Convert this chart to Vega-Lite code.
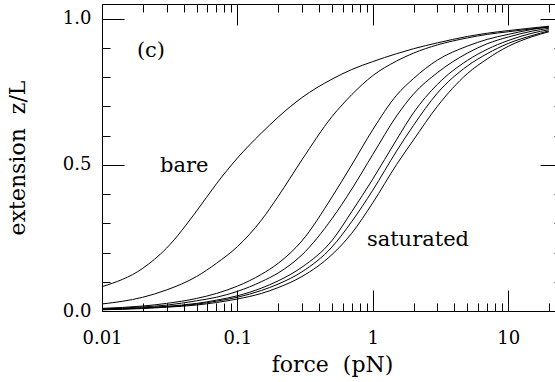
{
  "$schema": "https://vega.github.io/schema/vega-lite/v6.json",
  "width": 460,
  "height": 307,
  "autosize": {"type": "none"},
  "padding": {"left": 102, "top": 4, "right": 0, "bottom": 71},
  "background": "white",
  "config": {
    "view": {"stroke": "black", "strokeWidth": 1},
    "axis": {
      "domainColor": "black", "tickColor": "black", "labelColor": "black", "titleColor": "black",
      "grid": false, "labelFont": "DejaVu Serif", "titleFont": "DejaVu Serif",
      "labelFontSize": 18, "titleFontSize": 22, "titleFontWeight": "normal",
      "tickWidth": 1, "domainWidth": 1, "labelFlush": false, "labelBound": false, "labelOverlap": false
    }
  },
  "datasets": {
    "curves": [
      {"curve":1,"force":0.01,"z":0.083},{"curve":1,"force":0.02,"z":0.146},{"curve":1,"force":0.03,"z":0.215},{"curve":1,"force":0.05,"z":0.342},{"curve":1,"force":0.07,"z":0.435},{"curve":1,"force":0.1,"z":0.523},{"curve":1,"force":0.15,"z":0.608},{"curve":1,"force":0.2,"z":0.663},{"curve":1,"force":0.3,"z":0.730},{"curve":1,"force":0.5,"z":0.793},{"curve":1,"force":0.7,"z":0.826},{"curve":1,"force":1,"z":0.853},{"curve":1,"force":1.5,"z":0.880},{"curve":1,"force":2,"z":0.897},{"curve":1,"force":3,"z":0.917},{"curve":1,"force":5,"z":0.939},{"curve":1,"force":7,"z":0.950},{"curve":1,"force":10,"z":0.959},{"curve":1,"force":15,"z":0.968},{"curve":1,"force":20,"z":0.974},
      {"curve":2,"force":0.01,"z":0.024},{"curve":2,"force":0.02,"z":0.047},{"curve":2,"force":0.03,"z":0.072},{"curve":2,"force":0.05,"z":0.118},{"curve":2,"force":0.07,"z":0.163},{"curve":2,"force":0.1,"z":0.220},{"curve":2,"force":0.15,"z":0.310},{"curve":2,"force":0.2,"z":0.392},{"curve":2,"force":0.3,"z":0.517},{"curve":2,"force":0.5,"z":0.665},{"curve":2,"force":0.7,"z":0.740},{"curve":2,"force":1,"z":0.805},{"curve":2,"force":1.5,"z":0.855},{"curve":2,"force":2,"z":0.882},{"curve":2,"force":3,"z":0.910},{"curve":2,"force":5,"z":0.934},{"curve":2,"force":7,"z":0.946},{"curve":2,"force":10,"z":0.955},{"curve":2,"force":15,"z":0.965},{"curve":2,"force":20,"z":0.971},
      {"curve":3,"force":0.01,"z":0.009},{"curve":3,"force":0.02,"z":0.017},{"curve":3,"force":0.03,"z":0.026},{"curve":3,"force":0.05,"z":0.043},{"curve":3,"force":0.07,"z":0.060},{"curve":3,"force":0.1,"z":0.085},{"curve":3,"force":0.15,"z":0.125},{"curve":3,"force":0.2,"z":0.163},{"curve":3,"force":0.3,"z":0.240},{"curve":3,"force":0.5,"z":0.390},{"curve":3,"force":0.7,"z":0.500},{"curve":3,"force":1,"z":0.620},{"curve":3,"force":1.5,"z":0.738},{"curve":3,"force":2,"z":0.795},{"curve":3,"force":3,"z":0.858},{"curve":3,"force":5,"z":0.906},{"curve":3,"force":7,"z":0.929},{"curve":3,"force":10,"z":0.946},{"curve":3,"force":15,"z":0.963},{"curve":3,"force":20,"z":0.972},
      {"curve":4,"force":0.01,"z":0.007},{"curve":4,"force":0.02,"z":0.014},{"curve":4,"force":0.03,"z":0.020},{"curve":4,"force":0.05,"z":0.035},{"curve":4,"force":0.07,"z":0.047},{"curve":4,"force":0.1,"z":0.067},{"curve":4,"force":0.15,"z":0.100},{"curve":4,"force":0.2,"z":0.130},{"curve":4,"force":0.3,"z":0.192},{"curve":4,"force":0.5,"z":0.316},{"curve":4,"force":0.7,"z":0.417},{"curve":4,"force":1,"z":0.535},{"curve":4,"force":1.5,"z":0.667},{"curve":4,"force":2,"z":0.742},{"curve":4,"force":3,"z":0.815},{"curve":4,"force":5,"z":0.882},{"curve":4,"force":7,"z":0.914},{"curve":4,"force":10,"z":0.937},{"curve":4,"force":15,"z":0.957},{"curve":4,"force":20,"z":0.967},
      {"curve":5,"force":0.01,"z":0.0054},{"curve":5,"force":0.02,"z":0.011},{"curve":5,"force":0.03,"z":0.016},{"curve":5,"force":0.05,"z":0.026},{"curve":5,"force":0.07,"z":0.037},{"curve":5,"force":0.1,"z":0.052},{"curve":5,"force":0.15,"z":0.078},{"curve":5,"force":0.2,"z":0.103},{"curve":5,"force":0.3,"z":0.150},{"curve":5,"force":0.5,"z":0.241},{"curve":5,"force":0.7,"z":0.340},{"curve":5,"force":1,"z":0.451},{"curve":5,"force":1.5,"z":0.586},{"curve":5,"force":2,"z":0.678},{"curve":5,"force":3,"z":0.775},{"curve":5,"force":5,"z":0.857},{"curve":5,"force":7,"z":0.895},{"curve":5,"force":10,"z":0.925},{"curve":5,"force":15,"z":0.950},{"curve":5,"force":20,"z":0.962},
      {"curve":6,"force":0.01,"z":0.0048},{"curve":6,"force":0.02,"z":0.0098},{"curve":6,"force":0.03,"z":0.0145},{"curve":6,"force":0.05,"z":0.0235},{"curve":6,"force":0.07,"z":0.0335},{"curve":6,"force":0.1,"z":0.047},{"curve":6,"force":0.15,"z":0.070},{"curve":6,"force":0.2,"z":0.092},{"curve":6,"force":0.3,"z":0.134},{"curve":6,"force":0.5,"z":0.219},{"curve":6,"force":0.7,"z":0.306},{"curve":6,"force":1,"z":0.413},{"curve":6,"force":1.5,"z":0.547},{"curve":6,"force":2,"z":0.635},{"curve":6,"force":3,"z":0.745},{"curve":6,"force":5,"z":0.838},{"curve":6,"force":7,"z":0.880},{"curve":6,"force":10,"z":0.915},{"curve":6,"force":15,"z":0.942},{"curve":6,"force":20,"z":0.958},
      {"curve":7,"force":0.01,"z":0.0042},{"curve":7,"force":0.02,"z":0.0084},{"curve":7,"force":0.03,"z":0.0129},{"curve":7,"force":0.05,"z":0.0205},{"curve":7,"force":0.07,"z":0.029},{"curve":7,"force":0.1,"z":0.041},{"curve":7,"force":0.15,"z":0.060},{"curve":7,"force":0.2,"z":0.080},{"curve":7,"force":0.3,"z":0.118},{"curve":7,"force":0.5,"z":0.193},{"curve":7,"force":0.7,"z":0.266},{"curve":7,"force":1,"z":0.370},{"curve":7,"force":1.5,"z":0.501},{"curve":7,"force":2,"z":0.585},{"curve":7,"force":3,"z":0.700},{"curve":7,"force":5,"z":0.812},{"curve":7,"force":7,"z":0.862},{"curve":7,"force":10,"z":0.905},{"curve":7,"force":15,"z":0.938},{"curve":7,"force":20,"z":0.955}
    ],
    "notes": [
      {"force": 0.0181, "z": 0.89, "label": "(c)"},
      {"force": 0.0268, "z": 0.497, "label": "bare"},
      {"force": 0.905, "z": 0.243, "label": "saturated"}
    ]
  },
  "layer": [
    {
      "data": {"name": "curves"},
      "mark": {"type": "line", "color": "black", "strokeWidth": 1, "interpolate": "monotone"},
      "encoding": {
        "x": {"field": "force", "type": "quantitative", "scale": {"type": "log", "domain": [0.01, 25], "nice": false},
          "axis": {"orient": "bottom", "values": [0.01, 0.1, 1, 10], "format": "~g", "tickSize": -21, "labelPadding": 39, "title": "force\u00a0\u00a0(pN)", "titlePadding": 7}},
        "y": {"field": "z", "type": "quantitative", "scale": {"domain": [0, 1.05], "nice": false},
          "axis": {"orient": "left", "values": [0, 0.5, 1], "format": ".1f", "tickSize": -22, "labelPadding": 33, "title": "extension\u00a0\u00a0z/L", "titlePadding": 33}},
        "detail": {"field": "curve"}
      }
    },
    {
      "data": {"name": "notes"},
      "mark": {"type": "text", "font": "DejaVu Serif", "fontSize": 21, "align": "left", "baseline": "middle", "color": "black"},
      "encoding": {
        "x": {"field": "force", "type": "quantitative",
          "axis": {"orient": "bottom", "values": [0.02,0.03,0.04,0.05,0.06,0.07,0.08,0.09,0.2,0.3,0.4,0.5,0.6,0.7,0.8,0.9,2,3,4,5,6,7,8,9,20], "tickSize": -8, "labels": false, "domain": false, "title": null}},
        "y": {"field": "z", "type": "quantitative",
          "axis": {"orient": "left", "values": [0.1,0.2,0.3,0.4,0.6,0.7,0.8,0.9], "tickSize": -8, "labels": false, "domain": false, "title": null}},
        "text": {"field": "label"}
      }
    },
    {
      "data": {"name": "notes"},
      "mark": {"type": "point", "opacity": 0, "size": 1},
      "encoding": {
        "x": {"field": "force", "type": "quantitative",
          "axis": {"orient": "top", "values": [0.01, 0.1, 1, 10], "tickSize": -21, "labels": false, "domain": false, "title": null}},
        "y": {"field": "z", "type": "quantitative",
          "axis": {"orient": "right", "values": [0, 0.5, 1], "tickSize": -22, "labels": false, "domain": false, "title": null}}
      }
    },
    {
      "data": {"name": "notes"},
      "mark": {"type": "point", "opacity": 0, "size": 1},
      "encoding": {
        "x": {"field": "force", "type": "quantitative",
          "axis": {"orient": "top", "values": [0.02,0.03,0.04,0.05,0.06,0.07,0.08,0.09,0.2,0.3,0.4,0.5,0.6,0.7,0.8,0.9,2,3,4,5,6,7,8,9,20], "tickSize": -8, "labels": false, "domain": false, "title": null}},
        "y": {"field": "z", "type": "quantitative",
          "axis": {"orient": "right", "values": [0.1,0.2,0.3,0.4,0.6,0.7,0.8,0.9], "tickSize": -8, "labels": false, "domain": false, "title": null}}
      }
    }
  ],
  "resolve": {"axis": {"x": "independent", "y": "independent"}}
}
